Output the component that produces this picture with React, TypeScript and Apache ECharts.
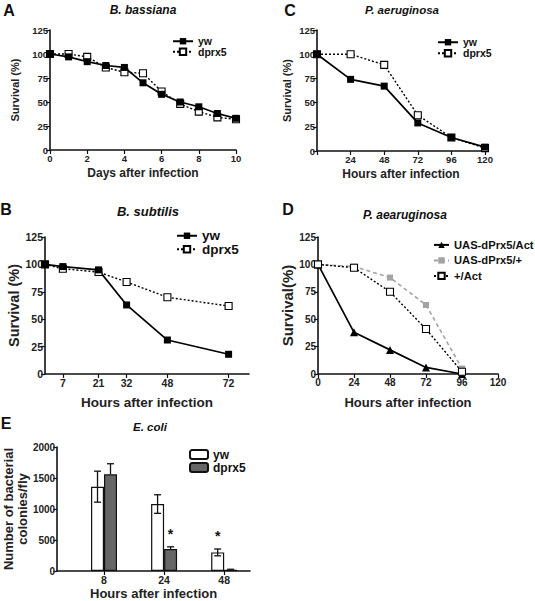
import React, { useEffect, useRef } from "react";
import * as echarts from "echarts";

const FONT = "'Liberation Sans', Arial, Helvetica, sans-serif";

// Panel A – B. bassiana
const daysA = [0, 1, 2, 3, 4, 5, 6, 7, 8, 9, 10];
const ywA = [100, 97, 92, 88, 86, 70, 58, 50, 45, 38, 33];
const dprxA = [100, 100, 97, 86, 81, 80, 61, 48, 40, 34, 32];

// Panel C – P. aeruginosa
const hoursC = [0, 24, 48, 72, 96, 120];
const ywC = [100, 74, 67, 29, 14, 4];
const dprxC = [100, 100, 89, 37, 14, 3];

// Panel B – B. subtilis
const hoursB = [0, 7, 21, 32, 48, 72];
const ywB = [100, 98, 95, 63, 31, 18];
const dprxB = [100, 96, 93, 84, 70, 62];
const ticksB = [7, 21, 32, 48, 72];

// Panel D – P. aearuginosa
const hoursD = [0, 24, 48, 72, 96];
const uasAct = [100, 38, 22, 6, 0];
const uasPlus = [100, 98, 88, 63, 5];
const plusAct = [100, 97, 75, 41, 2];

// Panel E – E. coli
const categoriesE = ["8", "24", "48"];
const ywE = [1360, 1080, 300];
const ywErr = [250, 150, 55];
const dprxE = [1560, 355, 20];
const dprxErr = [170, 35, 8];
const ywSig = [false, false, true];
const dprxSig = [false, true, false];

const pts = (xs: number[], ys: number[]) => xs.map((x, i) => [x, ys[i]]);

function xAxisCfg(grid: number, fs: number, extra: any, labelExtra: any = {}, tickExtra: any = {}) {
  return {
    type: "value",
    gridIndex: grid,
    axisLine: { show: true, onZero: false, lineStyle: { color: "#111", width: 1.6 } },
    axisTick: { show: true, length: 4, lineStyle: { color: "#111", width: 1.2 }, ...tickExtra },
    axisLabel: { color: "#222", fontWeight: "bold", fontSize: fs, fontFamily: FONT, margin: 3, ...labelExtra },
    splitLine: { show: false },
    nameLocation: "middle",
    ...extra,
  };
}

function yAxisCfg(grid: number, fs: number, extra: any) {
  return {
    type: "value",
    gridIndex: grid,
    axisLine: { show: true, onZero: false, lineStyle: { color: "#111", width: 1.6 } },
    axisTick: { show: true, length: 4, lineStyle: { color: "#111", width: 1.2 } },
    axisLabel: {
      color: "#222",
      fontWeight: "bold",
      fontSize: fs,
      fontFamily: FONT,
      margin: 2,
      formatter: (v: number) => String(v),
    },
    splitLine: { show: false },
    nameLocation: "middle",
    ...extra,
  };
}

const nameStyle = (fs: number, extra: any = {}) => ({
  color: "#222",
  fontWeight: "bold",
  fontSize: fs,
  fontFamily: FONT,
  ...extra,
});

function solidSeries(name: string, idx: number, data: number[][], symbol = "rect", size = 7) {
  return {
    name,
    type: "line",
    xAxisIndex: idx,
    yAxisIndex: idx,
    data,
    symbol,
    symbolSize: size,
    itemStyle: { color: "#000" },
    lineStyle: { color: "#000", width: 1.7 },
  };
}

function openSeries(name: string, idx: number, data: number[][], size = 7) {
  return {
    name,
    type: "line",
    xAxisIndex: idx,
    yAxisIndex: idx,
    data,
    symbol: "rect",
    symbolSize: size,
    itemStyle: { color: "#fff", borderColor: "#000", borderWidth: 1.1 },
    lineStyle: { color: "#000", width: 1.4, type: [2, 2] },
  };
}

function legendItem(name: string, left: number, cy: number, fs: number, iw = 20, ih = 8) {
  const h = Math.max(ih, fs);
  return {
    data: [name],
    left,
    top: cy - h / 2,
    padding: 0,
    orient: "vertical",
    itemWidth: iw,
    itemHeight: ih,
    selectedMode: false,
    formatter: (n: string) => n.split(":").slice(1).join(":"),
    textStyle: { color: "#111", fontWeight: "bold", fontSize: fs, fontFamily: FONT },
  };
}

function txt(text: string, x: number, y: number, font: string) {
  return {
    type: "text",
    x,
    y,
    style: { text, font, fill: "#111", textAlign: "center", textVerticalAlign: "middle" },
  };
}

const BAR_W = 13;

function errorSeries(name: string, vals: number[], errs: number[], sig: boolean[], side: number, lowerVisible: boolean) {
  return {
    name,
    type: "custom",
    xAxisIndex: 4,
    yAxisIndex: 4,
    z: 5,
    data: vals.map((v, i) => [i + 1, lowerVisible ? v - errs[i] : v, v + errs[i], sig[i] ? 1 : 0]),
    renderItem: (params: any, api: any) => {
      const x = api.value(0);
      const lo = api.value(1);
      const hi = api.value(2);
      const s = api.value(3);
      const pHi = api.coord([x, hi]);
      const pLo = api.coord([x, lo]);
      const cx = pHi[0] + (side * BAR_W) / 2;
      const cap = 3.5;
      const st = { stroke: "#111", lineWidth: 1.3 };
      const children: any[] = [
        { type: "line", shape: { x1: cx, y1: pLo[1], x2: cx, y2: pHi[1] }, style: st },
        { type: "line", shape: { x1: cx - cap, y1: pHi[1], x2: cx + cap, y2: pHi[1] }, style: st },
      ];
      if (lowerVisible) {
        children.push({ type: "line", shape: { x1: cx - cap, y1: pLo[1], x2: cx + cap, y2: pLo[1] }, style: st });
      }
      if (s) {
        children.push({
          type: "text",
          x: cx,
          y: pHi[1] - 13,
          style: { text: "*", font: `bold 14px ${FONT}`, fill: "#111", textAlign: "center", textVerticalAlign: "middle" },
        });
      }
      return { type: "group", children };
    },
  };
}

export default function App() {
  const ref = useRef<HTMLDivElement>(null);
  useEffect(() => {
    if (!ref.current) return;
    const chart = echarts.init(ref.current, undefined, { renderer: "svg" });
    const catPos = categoriesE.map((_, i) => i + 1);
    const option: any = {
      animation: false,
      backgroundColor: "#fff",
      textStyle: { fontFamily: FONT },
      grid: [
        { left: 50, top: 30, width: 186, height: 120 },
        { left: 317, top: 30, width: 168, height: 121 },
        { left: 45, top: 237, width: 204, height: 137 },
        { left: 318, top: 237, width: 180, height: 137 },
        { left: 48, top: 447, width: 202, height: 126 },
      ],
      xAxis: [
        xAxisCfg(0, 9.5, { min: 0, max: 10, interval: 2, name: "Days after infection", nameGap: 17, nameTextStyle: nameStyle(12) }),
        xAxisCfg(
          1,
          9.5,
          { min: 0, max: 120, interval: 24, name: "Hours after infection", nameGap: 17, nameTextStyle: nameStyle(12) },
          { formatter: (v: number) => (v === 0 ? "" : String(v)) }
        ),
        xAxisCfg(
          2,
          10.5,
          { min: 0, max: 80, name: "Hours after infection", nameGap: 21, nameTextStyle: nameStyle(13.5) },
          { customValues: ticksB },
          { customValues: ticksB }
        ),
        xAxisCfg(3, 10, { min: 0, max: 120, interval: 24, name: "Hours after infection", nameGap: 22, nameTextStyle: nameStyle(13) }),
        xAxisCfg(
          4,
          10.5,
          { min: 0.22, max: 3.43, name: "Hours after infection", nameGap: 16, nameTextStyle: nameStyle(13) },
          { customValues: catPos, formatter: (v: number) => categoriesE[Math.round(v) - 1] ?? "" },
          { customValues: catPos }
        ),
      ],
      yAxis: [
        yAxisCfg(0, 9.5, { min: 0, max: 125, interval: 25, name: "Survival (%)", nameGap: 30, nameTextStyle: nameStyle(11) }),
        yAxisCfg(1, 9.5, { min: 0, max: 125, interval: 25, name: "Survival (%)", nameGap: 25, nameTextStyle: nameStyle(11) }),
        yAxisCfg(2, 10.5, { min: 0, max: 125, interval: 25, name: "Survival (%)", nameGap: 24, nameTextStyle: nameStyle(14.5) }),
        yAxisCfg(3, 10, { min: 0, max: 125, interval: 25, name: "Survival(%)", nameGap: 20, nameTextStyle: nameStyle(15) }),
        yAxisCfg(4, 10, {
          min: 0,
          max: 2000,
          interval: 500,
          name: "Number of bacterial\ncolonies/fly",
          nameGap: 14,
          nameTextStyle: nameStyle(13, { lineHeight: 14 }),
        }),
      ],
      legend: [
        legendItem("A:yw", 172, 41, 10.5),
        legendItem("A:dprx5", 172, 51.5, 10.5),
        legendItem("C:yw", 437, 42, 10.5),
        legendItem("C:dprx5", 437, 53, 10.5),
        legendItem("B:yw", 176, 235.5, 13.5),
        legendItem("B:dprx5", 176, 249, 13.5),
        legendItem("D:UAS-dPrx5/Act", 433, 245, 11.2, 15),
        legendItem("D:UAS-dPrx5/+", 433, 260.5, 11.2, 15),
        legendItem("D:+/Act", 433, 276, 11.2, 15),
        legendItem("E:yw", 189, 454.5, 12, 18, 9),
        legendItem("E:dprx5", 189, 467.5, 12, 18, 9),
      ],
      series: [
        openSeries("A:dprx5", 0, pts(daysA, dprxA)),
        solidSeries("A:yw", 0, pts(daysA, ywA)),
        openSeries("C:dprx5", 1, pts(hoursC, dprxC)),
        solidSeries("C:yw", 1, pts(hoursC, ywC)),
        openSeries("B:dprx5", 2, pts(hoursB, dprxB)),
        solidSeries("B:yw", 2, pts(hoursB, ywB)),
        {
          name: "D:UAS-dPrx5/+",
          type: "line",
          xAxisIndex: 3,
          yAxisIndex: 3,
          data: pts(hoursD, uasPlus),
          symbol: "rect",
          symbolSize: 6,
          itemStyle: { color: "#a3a3a3" },
          lineStyle: { color: "#a3a3a3", width: 1.6, type: [4, 3] },
        },
        solidSeries("D:UAS-dPrx5/Act", 3, pts(hoursD, uasAct), "triangle", 8),
        openSeries("D:+/Act", 3, pts(hoursD, plusAct), 7),
        {
          name: "E:yw",
          type: "bar",
          xAxisIndex: 4,
          yAxisIndex: 4,
          data: pts(catPos, ywE),
          barWidth: BAR_W,
          barGap: "0%",
          itemStyle: { color: "#fff", borderColor: "#111", borderWidth: 1.2 },
        },
        {
          name: "E:dprx5",
          type: "bar",
          xAxisIndex: 4,
          yAxisIndex: 4,
          data: pts(catPos, dprxE),
          barWidth: BAR_W,
          barGap: "0%",
          itemStyle: { color: "#666", borderColor: "#111", borderWidth: 1.2 },
        },
        errorSeries("errYw", ywE, ywErr, ywSig, -1, true),
        errorSeries("errDprx", dprxE, dprxErr, dprxSig, 1, false),
      ],
      graphic: [
        txt("A", 9, 10, `bold 16px ${FONT}`),
        txt("C", 290, 10, `bold 16px ${FONT}`),
        txt("B", 6, 209, `bold 16px ${FONT}`),
        txt("D", 288, 209, `bold 16px ${FONT}`),
        txt("E", 6, 423, `bold 16px ${FONT}`),
        txt("B. bassiana", 143, 10, `italic bold 12px ${FONT}`),
        txt("P. aeruginosa", 402, 10, `italic bold 11.5px ${FONT}`),
        txt("B. subtilis", 148, 211, `italic bold 13px ${FONT}`),
        txt("P. aearuginosa", 405, 215, `italic bold 12px ${FONT}`),
        txt("E. coli", 150, 427, `italic bold 11.5px ${FONT}`),
      ],
    };
    chart.setOption(option);
    return () => chart.dispose();
  }, []);
  return (
    <div
      ref={ref}
      style={{ position: "absolute", left: 0, top: 0, width: 535, height: 601, background: "#fff" }}
    />
  );
}
